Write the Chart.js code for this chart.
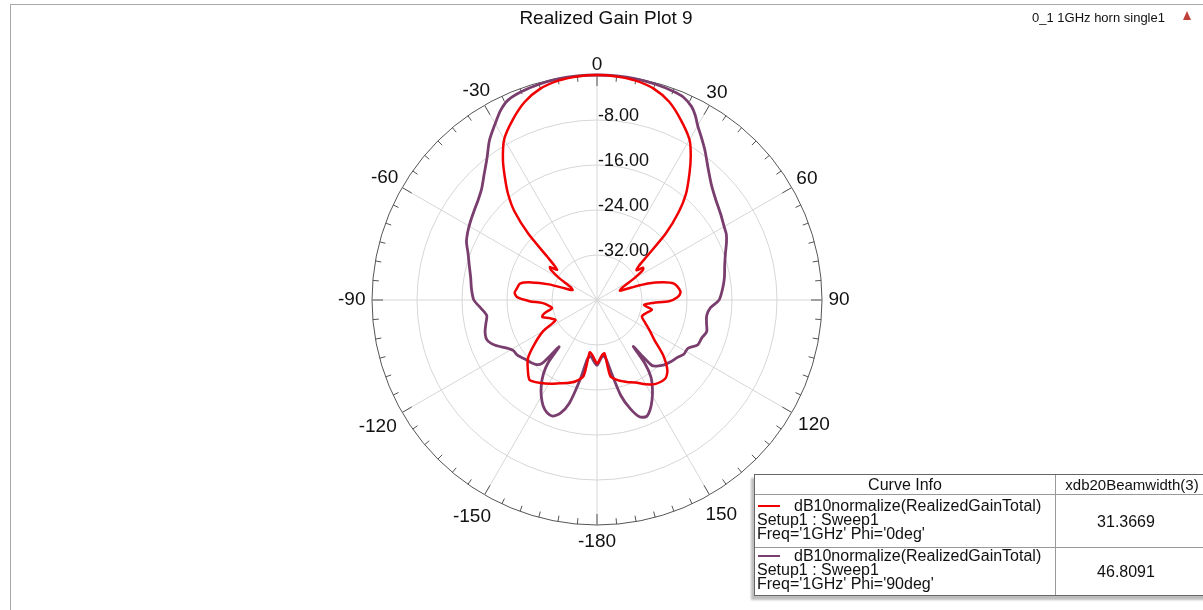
<!DOCTYPE html>
<html>
<head>
<meta charset="utf-8">
<script src="https://cdn.jsdelivr.net/npm/chart.js@4.4.1/dist/chart.umd.min.js"></script>
<style>
  body { margin: 0; background: #fff; font-family: "Liberation Sans", Arial, sans-serif; color: #111; }
  #wrap { position: relative; width: 1203px; height: 610px; overflow: hidden; }
  #frame { position: absolute; left: 10px; top: 4px; width: 1210px; height: 620px;
           border-top: 1px solid #a8a8a8; border-left: 1px solid #a8a8a8; }
  #chart-box { position: absolute; left: 0; top: 0; width: 1203px; height: 610px; }
  #title { position: absolute; top: 7px; left: 0; width: 1212px; text-align: center; font-size: 19px; }
  #project { position: absolute; top: 10px; left: 1032px; font-size: 13px; }
  #icon { position: absolute; left: 1183px; top: 11px; width: 0; height: 0;
          border-left: 4px solid transparent; border-right: 4px solid transparent; border-bottom: 9px solid #c0403a; }
  #legend { position: absolute; left: 754px; top: 474px; width: 462px; height: 120px;
            border: 1px solid #666; background: #fff; box-shadow: -3px 4px 2px #bdbdbd;
            font-size: 16px; line-height: 14px; }
  #legend .hl { position: absolute; left: 0; right: 0; height: 0; border-top: 1px solid #999; }
  #legend .vl { position: absolute; top: 0; bottom: 0; width: 0; border-left: 1px solid #999; }
  #legend .t { position: absolute; white-space: nowrap; }
  #legend .c { position: absolute; white-space: nowrap; text-align: center; }
  #legend .sample { position: absolute; left: 3px; width: 22px; height: 0; border-top: 2px solid; }
</style>
</head>
<body>
<div id="wrap">
  <div id="frame"></div>
  <div id="chart-box"><canvas id="polar-chart"></canvas></div>
  <div id="title">Realized Gain Plot 9</div>
  <div id="project">0_1 1GHz horn single1</div>
  <div id="icon"></div>
  <div id="legend"></div>
</div>
<script>
// angle (deg, clockwise from top) and normalized gain (dB)
const phi0Theta = [-178, -175, -172, -170, -165, -160, -156, -151, -146, -140, -135, -130, -125, -120, -116, -111, -107, -104, -100, -96, -93, -91, -88, -85, -82, -78, -75, -72, -70, -68, -64, -60, -57, -55, -53, -51, -49, -46, -43, -40, -37, -34, -30, -25, -20, -15, -10, -5, 0, 5, 10, 15, 20, 25, 30, 33, 36, 40, 43, 46, 49, 51, 53, 55, 57, 60, 64, 68, 70, 72, 75, 78, 82, 85, 88, 91, 93, 96, 100, 104, 110, 115, 120, 125, 130, 135, 139, 145, 150, 155, 160, 165, 170, 172, 175, 178, 180];
const phi0Gain = [-29.3, -30.2, -30.6, -26.3, -25.0, -24.3, -23.8, -23.0, -22.2, -21.4, -22.6, -24.0, -26.5, -29.0, -31.8, -31.0, -29.8, -30.4, -31.9, -31.2, -30.2, -28.0, -25.8, -25.3, -25.6, -26.0, -27.9, -31.0, -34.0, -35.3, -34.8, -32.3, -30.3, -29.8, -31.1, -30.2, -28.3, -23.0, -18.5, -15.4, -12.8, -10.1, -7.0, -4.6, -2.5, -1.1, -0.4, -0.1, 0, -0.1, -0.4, -1.1, -2.5, -4.7, -7.1, -9.4, -12.0, -15.4, -18.8, -23.0, -28.5, -30.5, -31.2, -30.0, -30.3, -32.5, -35.0, -35.6, -33.5, -30.5, -27.8, -26.0, -25.3, -25.1, -25.7, -27.2, -30.0, -31.6, -30.1, -30.8, -31.5, -30.6, -29.2, -27.5, -24.6, -22.3, -21.5, -21.8, -22.7, -23.8, -24.5, -25.2, -26.2, -30.4, -30.1, -29.2, -28.7];

const phi90Theta = [-177, -174, -171, -168, -165, -162, -159, -156, -153, -150, -147, -144, -142, -141, -140, -139, -137, -133, -129, -125, -121, -118, -114, -110, -106, -102, -98, -94, -90, -85, -80, -75, -70, -66, -62, -58, -54, -50, -46, -42, -38, -34, -30, -27, -24, -20, -15, -10, -5, 0, 5, 10, 15, 20, 23, 26, 28, 30, 33, 36, 40, 45, 50, 55, 60, 63, 66, 70, 75, 80, 85, 90, 94, 98, 102, 106, 110, 114, 118, 122, 126, 130, 134, 138, 140, 141, 142, 143, 145, 148, 151, 154, 157, 160, 163, 166, 169, 172, 175, 178, 180];
const phi90Gain = [-29.1, -29.9, -29.5, -25.5, -21.0, -18.8, -17.9, -18.1, -18.9, -20.2, -21.8, -23.8, -26.0, -29.3, -27.2, -25.0, -24.3, -23.8, -23.4, -22.8, -22.6, -21.8, -20.2, -19.2, -19.3, -19.8, -20.2, -19.3, -18.1, -17.6, -17.2, -16.5, -15.6, -14.6, -14.0, -13.5, -13.0, -12.4, -11.5, -10.0, -8.2, -5.8, -3.8, -2.2, -1.1, -0.6, -0.3, -0.1, -0.02, 0, -0.02, -0.08, -0.25, -0.5, -0.8, -1.7, -2.8, -4.2, -5.8, -7.3, -9.3, -11.2, -12.4, -13.2, -13.9, -14.2, -14.8, -15.7, -16.5, -17.0, -17.6, -18.3, -19.8, -20.3, -20.1, -19.7, -20.2, -20.4, -21.7, -21.8, -22.5, -22.9, -23.4, -24.2, -24.8, -27.0, -29.5, -25.8, -23.3, -21.4, -19.8, -18.4, -17.5, -17.9, -19.8, -22.5, -27.0, -29.8, -29.9, -29.0, -28.4];

const angleTickValues = [0, 30, 60, 90, 120, 150, -180, -150, -120, -90, -60, -30];
const angleTickLabels = ["0", "30", "60", "90", "120", "150", "-180", "-150", "-120", "-90", "-60", "-30"];
const ringTicks = [-8, -16, -24, -32];

const curveNames = ["dB10normalize(RealizedGainTotal)", "dB10normalize(RealizedGainTotal)"];
const curveSetup = ["Setup1 : Sweep1", "Setup1 : Sweep1"];
const curveFreq = ["Freq='1GHz' Phi='0deg'", "Freq='1GHz' Phi='90deg'"];
const beamwidths = ["31.3669", "46.8091"];
const curveColors = ["#f00000", "#7a3e6e"];

// one radar slot per degree, only the read angles are filled
function toRadar(theta, gain) {
  const out = new Array(360).fill(null);
  theta.forEach((t, i) => {
    out[((t % 360) + 360) % 360] = gain[i];
  });
  return out;
}

const polarDecor = {
  id: "polarDecor",
  beforeDatasetsDraw(chart) {
    const scale = chart.scales.r;
    const ctx = chart.ctx;
    const R = scale.drawingArea;
    ctx.save();

    // small ticks on the outer circle
    ctx.strokeStyle = "#555";
    ctx.lineWidth = 1;
    for (let a = 0; a < 360; a += 5) {
      const len = a % 30 === 0 ? 11 : 6;
      const p1 = scale.getPointPosition(a, R);
      const p2 = scale.getPointPosition(a, R - len);
      ctx.beginPath();
      ctx.moveTo(p1.x, p1.y);
      ctx.lineTo(p2.x, p2.y);
      ctx.stroke();
    }

    // angle labels
    ctx.fillStyle = "#111";
    ctx.font = '19px "Liberation Sans", Arial';
    ctx.textAlign = "center";
    ctx.textBaseline = "middle";
    angleTickValues.forEach((deg, i) => {
      const idx = ((deg % 360) + 360) % 360;
      const label = angleTickLabels[i];
      const w = ctx.measureText(label).width;
      const rad = (idx * Math.PI) / 180;
      const gap = 3 + (7 * (1 - Math.cos(rad))) / 2;
      const d = R + gap + (Math.abs(Math.sin(rad)) * w) / 2 + Math.abs(Math.cos(rad)) * 7;
      const p = scale.getPointPosition(idx, d);
      ctx.fillText(label, p.x, p.y);
    });

    // ring labels
    ctx.font = '18px "Liberation Sans", Arial';
    ctx.textAlign = "left";
    ringTicks.forEach((v) => {
      const d = scale.getDistanceFromCenterForValue(v);
      ctx.fillText(v.toFixed(2), scale.xCenter + 1, scale.yCenter - d - 4);
    });
    ctx.restore();
  },
};

function drawChart() {
  const ctx = document.getElementById("polar-chart");
  const labels = Array.from({ length: 360 }, (_, i) => i);
  return new Chart(ctx, {
    type: "radar",
    data: {
      labels,
      datasets: [
        {
          label: curveFreq[0],
          data: toRadar(phi0Theta, phi0Gain),
          borderColor: curveColors[0],
          borderWidth: 2.5,
          pointRadius: 0,
          fill: false,
          spanGaps: true,
          tension: 0.25,
        },
        {
          label: curveFreq[1],
          data: toRadar(phi90Theta, phi90Gain),
          borderColor: curveColors[1],
          borderWidth: 2.8,
          pointRadius: 0,
          fill: false,
          spanGaps: true,
          tension: 0.25,
        },
      ],
    },
    options: {
      responsive: true,
      maintainAspectRatio: false,
      animation: false,
      layout: { padding: { left: 372, top: 75, right: 381, bottom: 85 } },
      plugins: {
        legend: { display: false },
        title: { display: false },
        tooltip: { enabled: false },
      },
      scales: {
        r: {
          min: -40,
          max: 0,
          ticks: { stepSize: 8, display: false },
          grid: {
            circular: true,
            color: (c) => (c.tick && c.tick.value === 0 ? "#555" : "#d6d6d6"),
            lineWidth: 1,
          },
          angleLines: {
            color: "#d6d6d6",
            lineWidth: (c) => (c.index % 30 === 0 ? 1 : 0),
          },
          pointLabels: { display: false },
        },
      },
    },
    plugins: [polarDecor],
  });
}

function buildLegend() {
  const box = document.getElementById("legend");
  let html = "";
  html += '<div class="hl" style="top:19px"></div>';
  html += '<div class="hl" style="top:72px"></div>';
  html += '<div class="vl" style="left:300px"></div>';
  html += '<div class="c" style="left:0;width:300px;top:3px">Curve Info</div>';
  html += '<div class="c" style="left:301px;width:152px;top:3px;font-size:15px">xdb20Beamwidth(3)</div>';
  curveNames.forEach((name, i) => {
    const top = 24 + i * 50;
    html += '<div class="sample" style="top:' + (top + 6) + "px;border-color:" + curveColors[i] + '"></div>';
    html += '<div class="t" style="left:39px;top:' + top + 'px">' + name + "</div>";
    html += '<div class="t" style="left:2px;top:' + (top + 14) + 'px">' + curveSetup[i] + "</div>";
    html += '<div class="t" style="left:2px;top:' + (top + 28) + 'px">' + curveFreq[i] + "</div>";
    html += '<div class="c" style="left:301px;width:140px;top:' + (top + 16) + 'px">' + beamwidths[i] + "</div>";
  });
  box.innerHTML = html;
}

buildLegend();
drawChart();
</script>
</body>
</html>
